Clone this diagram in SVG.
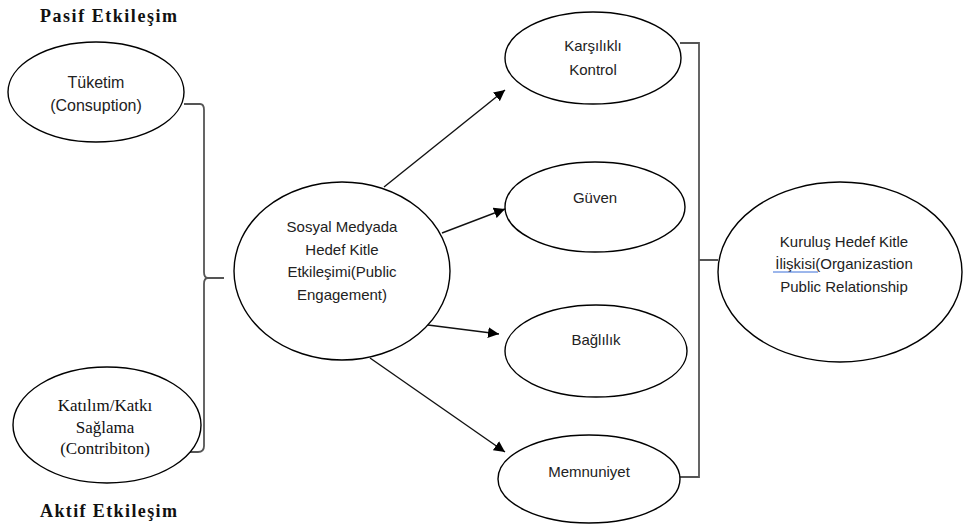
<svg xmlns="http://www.w3.org/2000/svg" width="965" height="528" viewBox="0 0 965 528">
<style>
.node{fill:#fff;stroke:#000;stroke-width:1.4}
.t{font-family:"Liberation Sans",Arial,sans-serif;font-size:15px;fill:#222;text-anchor:middle}
.s{font-family:"Liberation Serif","Times New Roman",serif;font-size:17px;fill:#111;text-anchor:middle}
.h{font-family:"Liberation Serif","Times New Roman",serif;font-size:18px;font-weight:bold;fill:#111}
.br{fill:none;stroke:#555;stroke-width:1.8}
.ar{fill:none;stroke:#111;stroke-width:1.4}
</style>
<defs>
<marker id="ah" viewBox="0 0 10 10" refX="10" refY="5" markerWidth="11" markerHeight="11" markerUnits="userSpaceOnUse" orient="auto">
<path d="M0,0 L10,5 L0,10 Z" fill="#000"/>
</marker>
</defs>
<rect width="965" height="528" fill="#fff"/>
<text class="h" x="40" y="22" textLength="137" lengthAdjust="spacing">Pasif Etkileşim</text>
<text class="h" x="40" y="517" textLength="137" lengthAdjust="spacing">Aktif Etkileşim</text>
<g id="connectors">
<path class="br" d="M184,104 H200 Q204,104 204,110 V272 Q204,278 208,278 H224 M208,278 Q204,278 204,284 V446 Q204,452 198,452 H190"/>
<path class="br" d="M680,43 H699 V477 H680 M699,260 H718"/>
<line class="ar" x1="384" y1="187" x2="505" y2="90" marker-end="url(#ah)"/>
<line class="ar" x1="442" y1="233" x2="505" y2="209" marker-end="url(#ah)"/>
<line class="ar" x1="420" y1="324" x2="499" y2="334" marker-end="url(#ah)"/>
<line class="ar" x1="370" y1="358" x2="505" y2="452" marker-end="url(#ah)"/>
</g>
<g id="tuketim">
<ellipse class="node" cx="96" cy="92" rx="88" ry="50"/>
<text class="t" x="96" y="88" style="font-size:16px">Tüketim</text>
<text class="t" x="96" y="111" style="font-size:16px">(Consuption)</text>
</g>
<g id="katilim">
<ellipse class="node" cx="107" cy="425" rx="94" ry="58"/>
<text class="s" x="105" y="411">Katılım/Katkı</text>
<text class="s" x="105" y="433">Sağlama</text>
<text class="s" x="105" y="454">(Contribiton)</text>
</g>
<g id="sosyal">
<ellipse class="node" cx="342" cy="271" rx="108" ry="89"/>
<text class="t" x="342" y="232">Sosyal Medyada</text>
<text class="t" x="342" y="255">Hedef Kitle</text>
<text class="t" x="342" y="277">Etkileşimi(Public</text>
<text class="t" x="342" y="300">Engagement)</text>
</g>
<g id="karsilikli">
<ellipse class="node" cx="593" cy="58" rx="88" ry="46"/>
<text class="t" x="593" y="51">Karşılıklı</text>
<text class="t" x="593" y="75">Kontrol</text>
</g>
<g id="guven">
<ellipse class="node" cx="595" cy="207" rx="90" ry="45"/>
<text class="t" x="595" y="203">Güven</text>
</g>
<g id="baglilik">
<ellipse class="node" cx="596" cy="351" rx="91" ry="46"/>
<text class="t" x="596" y="345">Bağlılık</text>
</g>
<g id="memnuniyet">
<ellipse class="node" cx="589" cy="479" rx="91" ry="44"/>
<text class="t" x="589" y="477">Memnuniyet</text>
</g>
<g id="kurulus">
<ellipse class="node" cx="840" cy="272" rx="122" ry="90"/>
<text class="t" x="844" y="247">Kuruluş Hedef Kitle</text>
<text class="t" x="844" y="269">İlişkisi(Organizastion</text>
<text class="t" x="844" y="292">Public Relationship</text>
<line x1="773" y1="272" x2="818" y2="272" stroke="#3b6fd8" stroke-width="1"/>
</g>
</svg>
